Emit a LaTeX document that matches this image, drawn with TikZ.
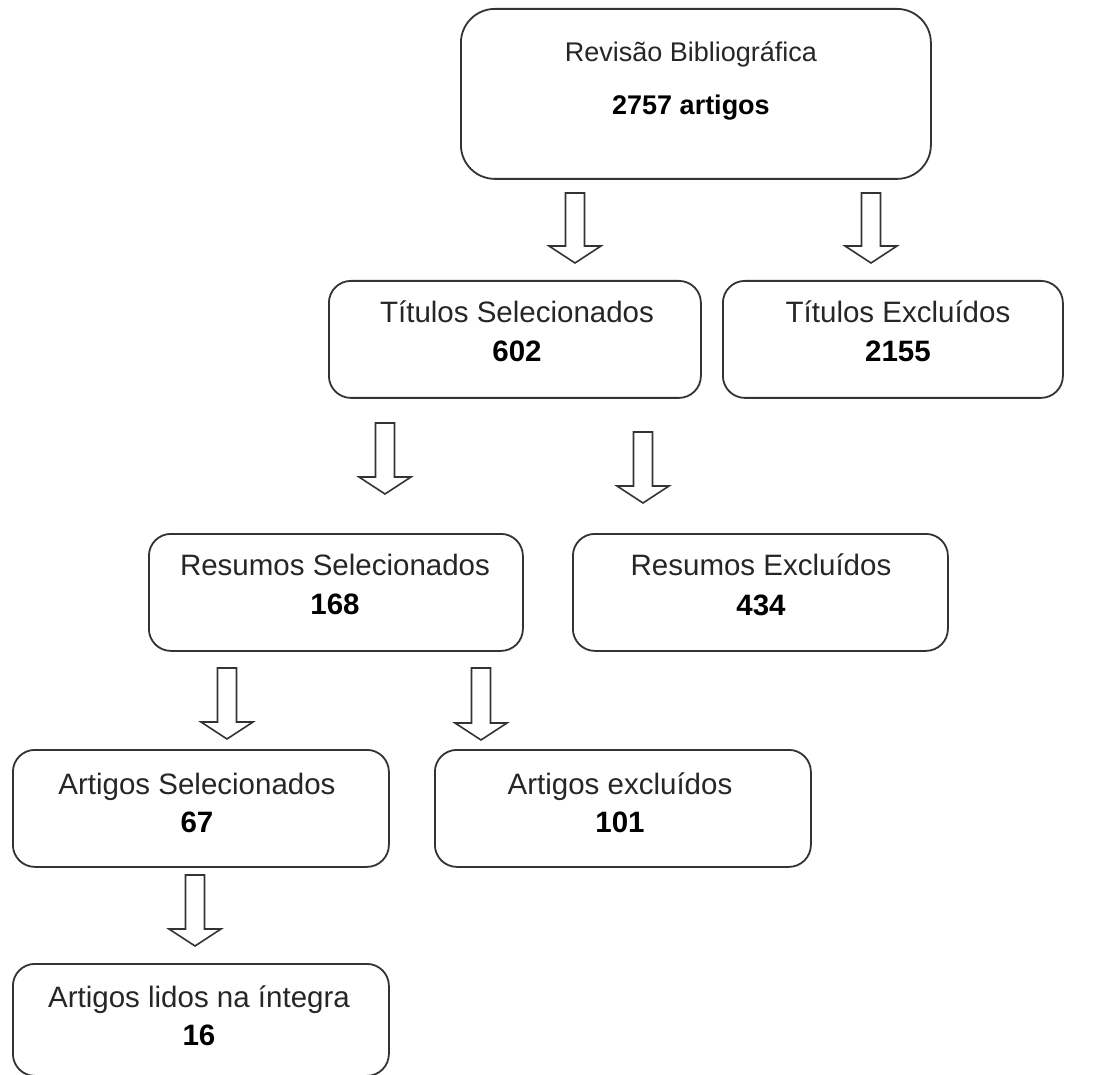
\documentclass[tikz,border=0pt]{standalone}
\usepackage{fontspec}
\setmainfont{Liberation Sans}
\definecolor{lncol}{HTML}{333333}
\definecolor{txcol}{HTML}{262626}
\begin{document}
\begin{tikzpicture}[x=1pt,y=-1pt,
  boxbase/.style={draw=lncol,line width=1.8pt,fill=white,rectangle,inner sep=0pt,anchor=north west},
  bigbox/.style={boxbase,rounded corners=34pt},
  smallbox/.style={boxbase,rounded corners=22pt},
  toplbl/.style={anchor=base,inner sep=0pt,text=txcol,font=\fontsize{27}{32}\selectfont},
  topnum/.style={anchor=base,inner sep=0pt,text=black,font=\fontsize{27}{32}\selectfont\bfseries},
  lbl/.style={anchor=base,inner sep=0pt,text=txcol,font=\fontsize{29.5}{34}\selectfont},
  num/.style={anchor=base,inner sep=0pt,text=black,font=\fontsize{29.5}{34}\selectfont\bfseries},
  blockarrow/.style={draw=lncol,line width=1.6pt,fill=white,line join=miter}
]
\useasboundingbox (0,0) rectangle (1096,1075);
\fill[white] (0,0) rectangle (1096,1075);

\newcommand{\downarrowblk}[3]{%
  \draw[blockarrow] (#1-9.5,#2) -- (#1+9.5,#2) -- (#1+9.5,#3-17) -- (#1+26,#3-17)
    -- (#1,#3) -- (#1-26,#3-17) -- (#1-9.5,#3-17) -- cycle;}

% boxes
\node[bigbox,minimum width=470pt,minimum height=170pt] (rev) at (460,8) {};
\node[smallbox,minimum width=372pt,minimum height=117pt] (ts) at (328,280) {};
\node[smallbox,minimum width=340pt,minimum height=117pt] (te) at (722,280) {};
\node[smallbox,minimum width=374pt,minimum height=117pt] (rs) at (148,533) {};
\node[smallbox,minimum width=375pt,minimum height=117pt] (re) at (572,533) {};
\node[smallbox,minimum width=376pt,minimum height=117pt] (as) at (12,749) {};
\node[smallbox,minimum width=376pt,minimum height=117pt] (ae) at (434,749) {};
\node[smallbox,minimum width=376pt,minimum height=112pt] (al) at (12,963) {};

% texts
\node[toplbl] (revt) at (691,62) {Revisão Bibliográfica};
\node[topnum] (revn) at (691,115) {2757 artigos};
\node[lbl] (tst) at (517,323) {Títulos Selecionados};
\node[num] (tsn) at (517,362) {602};
\node[lbl] (tet) at (898,323) {Títulos Excluídos};
\node[num] (ten) at (898,362) {2155};
\node[lbl] (rst) at (335,575) {Resumos Selecionados};
\node[num] (rsn) at (335,614) {168};
\node[lbl] (ret) at (761,575) {Resumos Excluídos};
\node[num] (ren) at (761,615) {434};
\node[lbl] (ast) at (197,794) {Artigos Selecionados};
\node[num] (asn) at (197,832) {67};
\node[lbl] (aet) at (620,794) {Artigos excluídos};
\node[num] (aen) at (620,832) {101};
\node[lbl] (alt) at (199,1007) {Artigos lidos na íntegra};
\node[num] (aln) at (199,1045) {16};

% block arrows
\downarrowblk{575}{193}{263}
\downarrowblk{871}{193}{263}
\downarrowblk{385}{423}{494}
\downarrowblk{643}{432}{503}
\downarrowblk{227}{668}{739}
\downarrowblk{481}{668}{740}
\downarrowblk{195}{875}{946}
\end{tikzpicture}
\end{document}
